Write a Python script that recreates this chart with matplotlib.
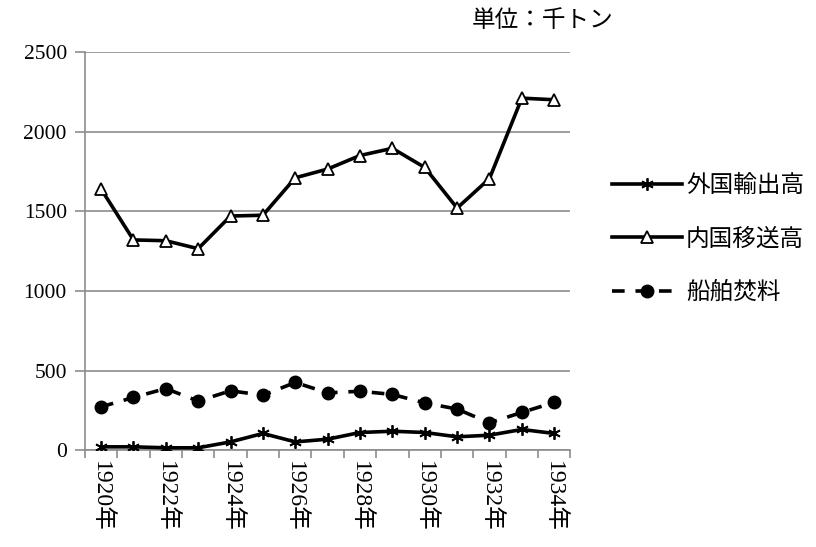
import matplotlib.pyplot as plt
import numpy as np

plt.rcParams['font.family'] = ['Liberation Serif', 'Noto Sans CJK JP']

years = ['1920年', '1921年', '1922年', '1923年', '1924年', '1925年', '1926年', '1927年',
         '1928年', '1929年', '1930年', '1931年', '1932年', '1933年', '1934年']
export_foreign = [21, 21, 15, 15, 52, 105, 52, 69, 111, 119, 111, 84, 94, 130, 105]
ship_domestic = [1640, 1320, 1315, 1265, 1470, 1475, 1710, 1765, 1850, 1895, 1775, 1520, 1705, 2210, 2200]
ship_fuel = [272, 331, 387, 308, 373, 345, 425, 360, 370, 350, 297, 258, 172, 237, 300]
names = ['外国輸出高', '内国移送高', '船舶焚料']
yticks = [0, 500, 1000, 1500, 2000, 2500]

fig = plt.figure(figsize=(8.16, 5.47), dpi=100)
ax = fig.add_axes([0.104, 0.177, 0.595, 0.728])

x = np.arange(len(years))
lw = 2.6
ax.plot(x, export_foreign, color='black', lw=lw, marker=(6, 2, 0), ms=9, mew=1.3,
        label=names[0], zorder=3)
ax.plot(x, ship_domestic, color='black', lw=lw, marker='^', ms=8, mfc='white', mec='black',
        mew=1.3, label=names[1], zorder=3)
ax.plot(x, ship_fuel, color='black', lw=lw, ls=(0, (3.5, 3)), marker='o', ms=9,
        label=names[2], zorder=3)

ax.set_xlim(-0.5, len(years) - 0.5)
ax.set_ylim(0, 2500)
ax.set_yticks(yticks)
ax.set_yticklabels([str(v) for v in yticks], fontsize=15.5)
ax.yaxis.grid(True, color='#8c8c8c', lw=1.2)
ax.set_axisbelow(True)

# tick marks between categories, labels on every other year
ax.set_xticks(np.arange(-0.5, len(years), 1))
ax.set_xticklabels([])
ax.set_xticks(x[::2], minor=True)
ax.set_xticklabels(years[::2], minor=True, rotation=270, fontsize=17)
ax.tick_params(axis='x', which='major', length=6, color='#8c8c8c', width=1.2)
ax.tick_params(axis='x', which='minor', length=0, pad=8)
ax.tick_params(axis='y', length=7, color='#8c8c8c', width=1.2, pad=6)

for s in ['top', 'right']:
    ax.spines[s].set_visible(False)
for s in ['left', 'bottom']:
    ax.spines[s].set_color('#8c8c8c')
    ax.spines[s].set_linewidth(1.2)

fig.text(0.578, 0.963, '単位：千トン', fontsize=17, family=['Noto Sans CJK JP'],
         ha='left', va='center')

fig.legend(loc='center left', bbox_to_anchor=(0.735, 0.563), frameon=False,
           prop={'family': ['Noto Sans CJK JP'], 'size': 17},
           handlelength=3.0, labelspacing=1.3, handletextpad=0.15, borderpad=0)

fig.savefig('out.png', dpi=100)
